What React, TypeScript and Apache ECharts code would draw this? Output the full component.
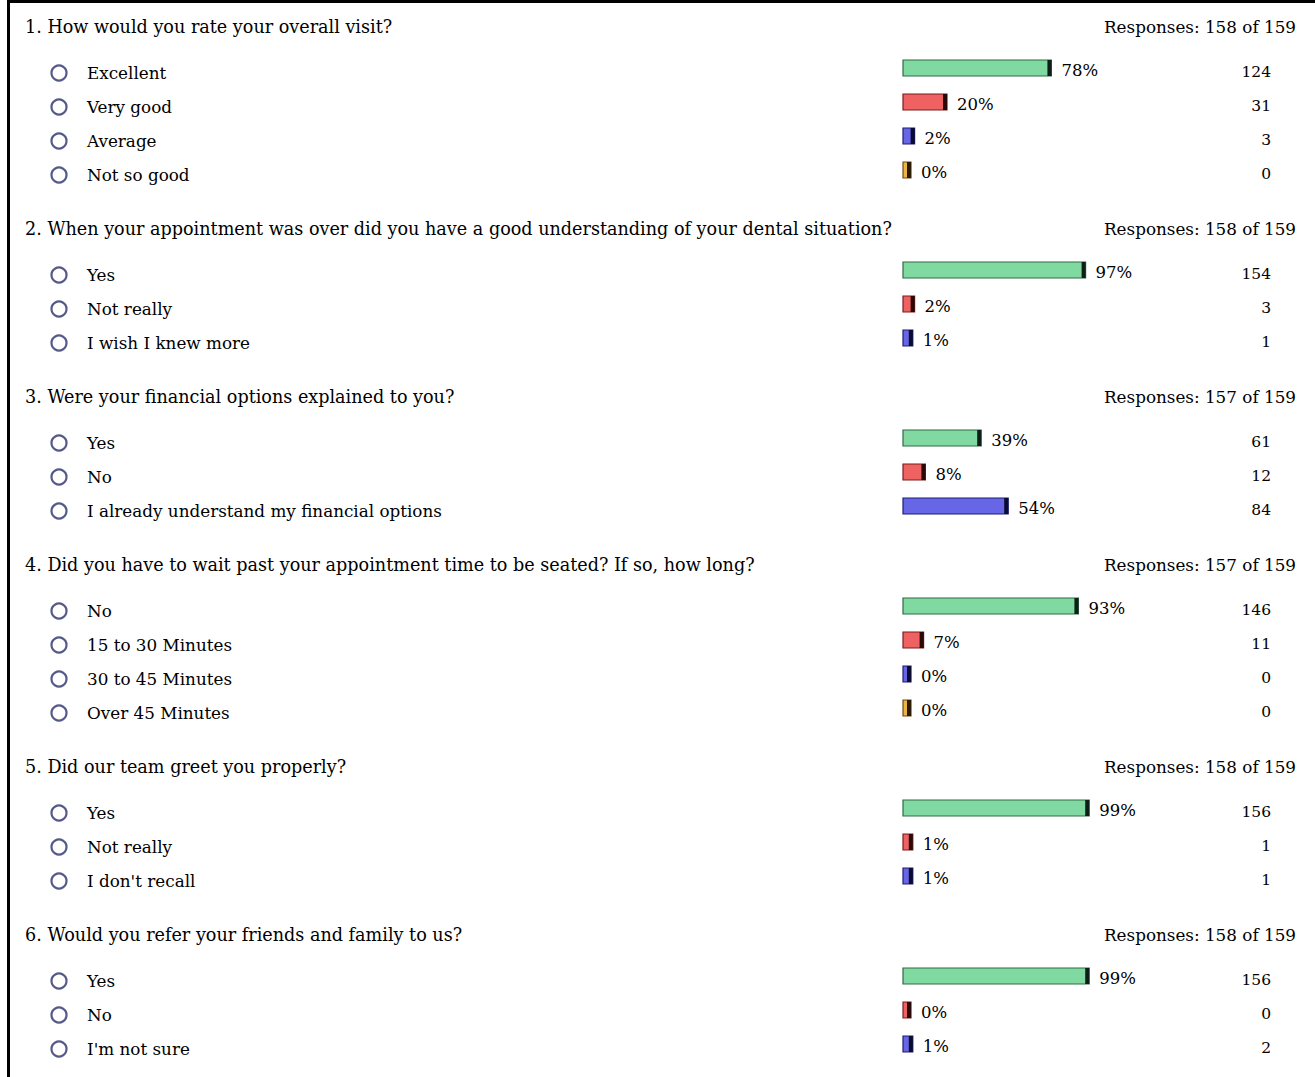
import React, { useEffect, useRef } from "react";
import * as echarts from "echarts";

const questions = [
  "1. How would you rate your overall visit?",
  "2. When your appointment was over did you have a good understanding of your dental situation?",
  "3. Were your financial options explained to you?",
  "4. Did you have to wait past your appointment time to be seated? If so, how long?",
  "5. Did our team greet you properly?",
  "6. Would you refer your friends and family to us?",
];
const answered = [158, 158, 157, 157, 158, 158];
const invited = 159;
const options = [
  ["Excellent", "Very good", "Average", "Not so good"],
  ["Yes", "Not really", "I wish I knew more"],
  ["Yes", "No", "I already understand my financial options"],
  ["No", "15 to 30 Minutes", "30 to 45 Minutes", "Over 45 Minutes"],
  ["Yes", "Not really", "I don't recall"],
  ["Yes", "No", "I'm not sure"],
];
const percents = [
  [78, 20, 2, 0],
  [97, 2, 1],
  [39, 8, 54],
  [93, 7, 0, 0],
  [99, 1, 1],
  [99, 0, 1],
];
const counts = [
  [124, 31, 3, 0],
  [154, 3, 1],
  [61, 12, 84],
  [146, 11, 0, 0],
  [156, 1, 1],
  [156, 0, 2],
];

const rowFills = ["#80d9a0", "#ef6262", "#6666e6", "#e9b648"];
const rowEdges = ["#2f6b45", "#7a1d1d", "#1d1d70", "#6f4b12"];
const rowCaps = ["#0e2016", "#2b0909", "#0b0b30", "#2b1b05"];

const W = 1315;
const H = 1077;
const FONT = "'DejaVu Serif', serif";

export default function App() {
  const ref = useRef<HTMLDivElement>(null);
  useEffect(() => {
    document.body.style.margin = "0";
    if (!ref.current) return;
    const chart = echarts.init(ref.current, undefined, { renderer: "svg" });

    const barLeft = 903;
    const scaleWidth = 180;
    const rowStep = 34;
    const grids: any[] = [];
    const xAxes: any[] = [];
    const yAxes: any[] = [];
    const series: any[] = [];
    const graphics: any[] = [
      { type: "rect", shape: { x: 7, y: 0, width: 3, height: H }, style: { fill: "#000" } },
      { type: "rect", shape: { x: 7, y: 0, width: W - 7, height: 3 }, style: { fill: "#000" } },
    ];

    let T = 27;
    questions.forEach((q, qi) => {
      const n = options[qi].length;
      graphics.push({
        type: "text",
        x: 25,
        y: T,
        style: { text: q, font: `17.6px ${FONT}`, fill: "#000", verticalAlign: "middle" },
      });
      graphics.push({
        type: "text",
        x: 1296,
        y: T,
        style: {
          text: `Responses: ${answered[qi]} of ${invited}`,
          font: `16.8px ${FONT}`,
          fill: "#000",
          align: "right",
          verticalAlign: "middle",
        },
      });
      grids.push({
        left: barLeft,
        width: scaleWidth,
        top: T + 46 - rowStep / 2,
        height: rowStep * n,
      });
      xAxes.push({ gridIndex: qi, type: "value", min: 0, max: 100, show: false });
      yAxes.push({
        gridIndex: qi,
        type: "category",
        inverse: true,
        data: options[qi],
        axisLine: { show: false },
        axisTick: { show: false },
        splitLine: { show: false },
        axisLabel: {
          margin: barLeft - 87,
          align: "left",
          fontFamily: FONT,
          fontSize: 16.8,
          color: "#000",
          padding: [2, 0, 0, 0],
        },
      });
      series.push({
        type: "custom",
        xAxisIndex: qi,
        yAxisIndex: qi,
        encode: { x: 0, y: 1 },
        data: percents[qi].map((p, i) => [p, i, counts[qi][i]]),
        renderItem: (params: any, api: any) => {
          const v = api.value(0);
          const idx = api.value(1);
          const c = api.value(2);
          const base = api.coord([0, idx]);
          const end = api.coord([v, idx]);
          const cy = base[1];
          const bh = 16;
          const by = cy - 5 - bh / 2;
          const len = 8 + (end[0] - base[0]);
          const x0 = base[0];
          const k = idx % rowFills.length;
          return {
            type: "group",
            children: [
              {
                type: "circle",
                shape: { cx: 59, cy: cy, r: 7.5 },
                style: { fill: "#fff", stroke: "#55598a", lineWidth: 2.2 },
              },
              {
                type: "rect",
                shape: { x: x0, y: by, width: len, height: bh },
                style: { fill: rowFills[k], stroke: rowEdges[k], lineWidth: 1.2 },
              },
              {
                type: "rect",
                shape: { x: x0 + len - 4, y: by, width: 4, height: bh },
                style: { fill: rowCaps[k] },
              },
              {
                type: "text",
                x: x0 + len + 10,
                y: cy - 3,
                style: {
                  text: `${v}%`,
                  font: `16.5px ${FONT}`,
                  fill: "#000",
                  verticalAlign: "middle",
                },
              },
              {
                type: "text",
                x: 1271,
                y: cy - 1,
                style: {
                  text: `${c}`,
                  font: `15.5px ${FONT}`,
                  fill: "#000",
                  align: "right",
                  verticalAlign: "middle",
                },
              },
            ],
          };
        },
      });
      T += 46 + rowStep * (n - 1) + 54;
    });

    chart.setOption({
      animation: false,
      backgroundColor: "#fff",
      grid: grids,
      xAxis: xAxes,
      yAxis: yAxes,
      series,
      graphic: graphics,
    });
    return () => chart.dispose();
  }, []);
  return <div ref={ref} style={{ width: W, height: H }} />;
}
